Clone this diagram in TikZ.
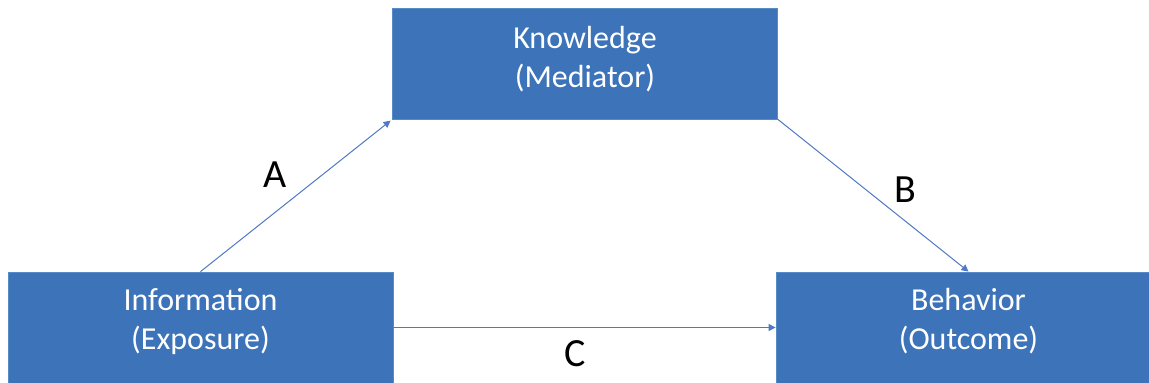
\documentclass[tikz,border=0pt]{standalone}
\usepackage{fontspec}
\setmainfont{Carlito}
\usetikzlibrary{arrows.meta,calc}
\definecolor{boxblue}{RGB}{61,115,185}
\definecolor{boxedge}{RGB}{88,138,200}
\definecolor{linkblue}{RGB}{80,120,200}
\tikzset{
  box/.style={rectangle, fill=boxblue, draw=boxedge, line width=0.8pt,
    minimum width=385pt, minimum height=111pt, inner sep=0pt},
  boxtext/.style={text=white, align=center, inner sep=0pt,
    font=\fontsize{32}{39}\selectfont},
  lab/.style={text=black, inner sep=0pt, font=\fontsize{40}{48}\selectfont},
  link/.style={draw=linkblue, line width=1pt,
    -{Triangle[width=7pt,length=7pt]}}
}
\begin{document}
\begin{tikzpicture}[x=1pt,y=-1pt]
\useasboundingbox (0,0) rectangle (1149,383);
\node[box] (K) at (585,63.5) {};
\node[box] (I) at (200.5,327.5) {};
\node[box] (O) at (968.5,327.5) {};
\node[boxtext] (Kt) at ([yshift=4pt]K.center) {Knowledge\\(Mediator)};
\node[boxtext] (It) at ([yshift=6pt]I.center) {Information\\(Exposure)};
\node[boxtext] (Ot) at ([yshift=6pt]O.center) {Behavior\\(Outcome)};
\draw[link, shorten >=2pt] (I.north) -- (K.south west);
\draw[link] (K.south east) -- (O.north);
\draw[link] (I.east) -- (O.west);
\node[lab] (A) at (275,175) {A};
\node[lab] (B) at (905,190) {B};
\node[lab] (C) at (575,354) {C};
\end{tikzpicture}
\end{document}
